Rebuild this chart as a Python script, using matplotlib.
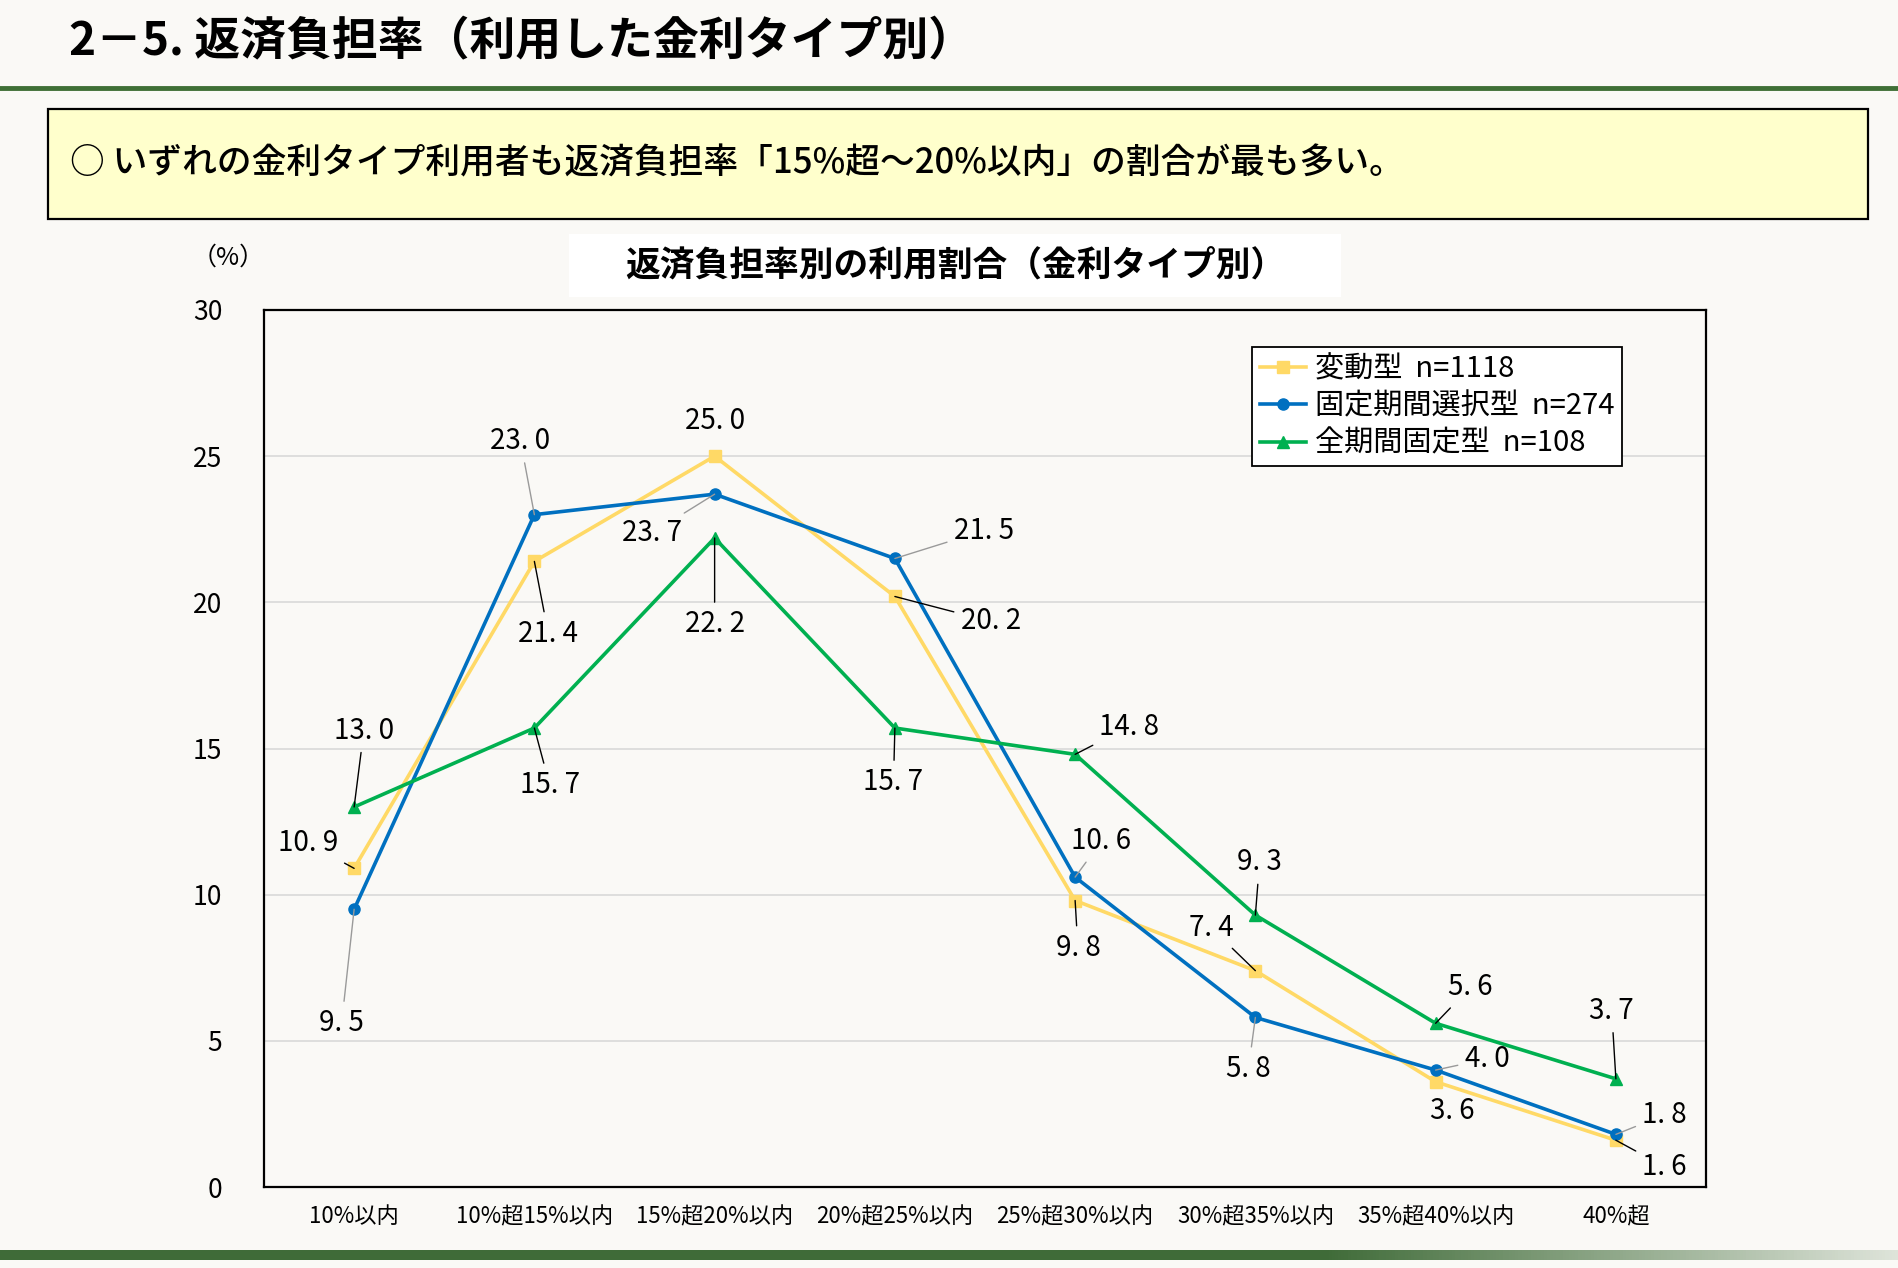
import numpy as np
import matplotlib
matplotlib.use('Agg')
from matplotlib import pyplot as plt
from matplotlib.patches import Rectangle
from matplotlib.lines import Line2D

plt.rcParams['font.family'] = ['Noto Sans CJK JP', 'DejaVu Sans']

categories = ['10%以内', '10%超15%以内', '15%超20%以内', '20%超25%以内',
              '25%超30%以内', '30%超35%以内', '35%超40%以内', '40%超']
variableRate = [10.9, 21.4, 25.0, 20.2, 9.8, 7.4, 3.6, 1.6]
fixedPeriodRate = [9.5, 23.0, 23.7, 21.5, 10.6, 5.8, 4.0, 1.8]
fullFixedRate = [13.0, 15.7, 22.2, 15.7, 14.8, 9.3, 5.6, 3.7]
seriesNames = ['変動型  n=1118', '固定期間選択型  n=274', '全期間固定型  n=108']
yTicks = [0, 5, 10, 15, 20, 25, 30]

# label offsets (points) from each marker, and whether a leader line is drawn
variableOffsets = [(-33, 18), (10, -52), (0, 25), (69, -18), (2, -34), (-32, 31), (12, -21), (35, -19)]
variableLeader = [True, True, False, True, True, True, False, True]
fixedPeriodOffsets = [(-9, -82), (-10, 53), (-45, -28), (64, 20), (19, 26), (-5, -37), (37, 8), (35, 14)]
fixedPeriodLeader = [True, True, True, True, True, True, True, True]
fullFixedOffsets = [(7, 55), (11, -41), (0, -62), (-1, -39), (39, 20), (3, 38), (25, 26), (-3, 49)]
fullFixedLeader = [True, True, True, True, True, True, True, True]

pageColor = '#faf9f6'
yellow = '#ffd966'
blue = '#0070c0'
green = '#00b050'

fig = plt.figure(figsize=(18.98, 12.68), dpi=100, facecolor=pageColor)

# page header
fig.text(69 / 1898, 1 - 42 / 1268, '2－5. 返済負担率（利用した金利タイプ別）',
         fontsize=33, fontweight='bold', ha='left', va='center')
fig.add_artist(Line2D([0, 1], [1 - 88 / 1268, 1 - 88 / 1268], color='#3f6f36',
                      linewidth=3.5, transform=fig.transFigure))
fig.add_artist(Rectangle((48 / 1898, 1 - 219 / 1268), 1820 / 1898, 110 / 1268,
                         facecolor='#ffffcc', edgecolor='black', linewidth=1.6,
                         transform=fig.transFigure))
fig.text(70 / 1898, 1 - 163 / 1268,
         '○ いずれの金利タイプ利用者も返済負担率「15%超～20%以内」の割合が最も多い。',
         fontsize=25, fontweight='medium', ha='left', va='center')

# chart title on a white strip
fig.add_artist(Rectangle((569 / 1898, 1 - 297 / 1268), 772 / 1898, 63 / 1268,
                         facecolor='white', edgecolor='none', transform=fig.transFigure))
fig.text(955 / 1898, 1 - 265 / 1268, '返済負担率別の利用割合（金利タイプ別）',
         fontsize=25, fontweight='bold', ha='center', va='center')
fig.text(228 / 1898, 1 - 258 / 1268, '（%）', fontsize=18, ha='center', va='center')

ax = fig.add_axes([264 / 1898, 1 - 1187 / 1268, 1442 / 1898, 877 / 1268])
ax.set_facecolor(pageColor)
x = np.arange(len(categories))

seriesList = [
    (variableRate, yellow, 's', 9, variableOffsets, variableLeader, 'black'),
    (fixedPeriodRate, blue, 'o', 8, fixedPeriodOffsets, fixedPeriodLeader, '#9a9a9a'),
    (fullFixedRate, green, '^', 8, fullFixedOffsets, fullFixedLeader, 'black'),
]

for (values, color, marker, size, offsets, leaders, leaderColor), name in zip(seriesList, seriesNames):
    ax.plot(x, values, color=color, linewidth=2.6, marker=marker, markersize=size,
            label=name, zorder=3)
    for xi, v, off, lead in zip(x, values, offsets, leaders):
        text = f'{v:.1f}'.replace('.', '. ')
        if lead:
            ax.annotate(text, xy=(xi, v), xytext=off, textcoords='offset points',
                        ha='center', va='center', fontsize=20, zorder=5,
                        arrowprops=dict(arrowstyle='-', color=leaderColor, linewidth=1,
                                        shrinkA=3, shrinkB=0))
        else:
            ax.annotate(text, xy=(xi, v), xytext=off, textcoords='offset points',
                        ha='center', va='center', fontsize=20, zorder=5)

ax.set_xlim(-0.5, len(categories) - 0.5)
ax.set_ylim(0, 30)
ax.set_yticks(yTicks)
ax.set_xticks(x)
ax.set_xticklabels(categories, fontsize=16)
ax.tick_params(axis='y', length=0, pad=30, labelsize=19)
ax.tick_params(axis='x', length=0, pad=13)
ax.grid(axis='y', color='#d9d9d9', linewidth=1.2)
ax.set_axisbelow(True)
for spine in ax.spines.values():
    spine.set_color('black')
    spine.set_linewidth(1.6)

leg = ax.legend(loc='upper right', bbox_to_anchor=(0.9417, 0.9578), borderaxespad=0,
                fontsize=21, frameon=True, fancybox=False, edgecolor='black',
                framealpha=1, handlelength=1.6, handletextpad=0.3,
                labelspacing=0.25, borderpad=0.25)
leg.get_frame().set_linewidth(1.3)

# bottom band fading to the right
band = fig.add_axes([0, 1 - 1260 / 1268, 1, 10 / 1268])
t = np.linspace(0, 1, 600)
alpha = np.clip(1 - (t - 0.7) / 0.3 * 0.85, 0.15, 1)
rgba = np.zeros((1, 600, 4))
rgba[..., 0] = 0.25
rgba[..., 1] = 0.42
rgba[..., 2] = 0.22
rgba[..., 3] = alpha
band.imshow(rgba, aspect='auto')
band.axis('off')

plt.savefig('out.png', dpi=100, facecolor=pageColor)
